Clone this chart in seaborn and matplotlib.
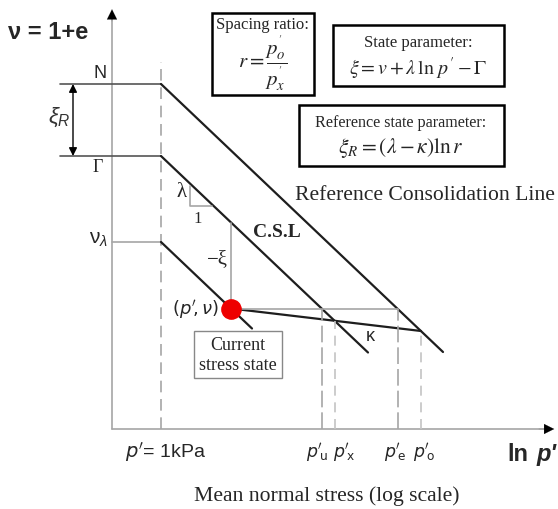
import matplotlib
matplotlib.use("Agg")
import matplotlib.pyplot as plt
import seaborn as sns
import pandas as pd
from matplotlib.patches import Rectangle

sns.set_theme(style="white")
plt.rcParams['font.family'] = ['Liberation Sans', 'DejaVu Sans']
plt.rcParams['mathtext.fontset'] = 'custom'
plt.rcParams['mathtext.rm'] = 'Liberation Sans'
plt.rcParams['mathtext.it'] = 'Liberation Sans:italic'
plt.rcParams['mathtext.bf'] = 'Liberation Sans:bold'

# ---- schematic values (x = ln p', 0 at p' = 1 kPa ; y = specific volume v) ----
v_N = 6.9
v_Gamma = 5.46
v_lambda = 3.74
rcl_x = [0.0, 5.64]
rcl_v = [6.9, 1.54]
csl_x = [0.0, 4.14]
csl_v = [5.46, 1.53]
ncl_x = [0.0, 1.82]
ncl_v = [3.74, 2.01]
kappa_x = [1.40, 5.20]
kappa_v = [2.41, 1.96]
state_x = 1.40
state_v = 2.41
csl_at_state = 4.13
p_u = 3.21
p_x = 3.47
p_e = 4.73
p_o = 5.20
v_x_on_csl = 2.16
v_o_on_rcl = 1.96
tick_labels = [r"$p'_{\!\rm u}$", r"$p'_{\!\rm x}$", r"$p'_{\!\rm e}$", r"$p'_{\!\rm o}$"]
tick_pos = [3.12, 3.66, 4.68, 5.27]

DARK = "#1e1e1e"
GRAY = "#a6a6a6"
LGRAY = "#c4c4c4"

fig = plt.figure(figsize=(5.58, 5.10), dpi=100)
ax = fig.add_axes([0, 0, 1, 1])
ax.set_xlim(-3.22, 7.94)
ax.set_ylim(-1.6, 8.6)
ax.axis('off')

def line(xs, ys, color=DARK, lw=1.6, ls='-'):
    df = pd.DataFrame({"x": xs, "y": ys})
    sns.lineplot(data=df, x="x", y="y", ax=ax, color=color, lw=lw,
                 linestyle=ls, sort=False, estimator=None, legend=False)

# axes
y_axis_x = -0.98
line([y_axis_x, y_axis_x], [0, 8.2], color=GRAY, lw=1.2)
line([y_axis_x, 7.7], [0, 0], color=GRAY, lw=1.2)
ax.annotate('', xy=(y_axis_x, 8.45), xytext=(y_axis_x, 8.1),
            arrowprops=dict(arrowstyle='-|>', color='black', lw=0.1, mutation_scale=18))
ax.annotate('', xy=(7.92, 0), xytext=(7.5, 0),
            arrowprops=dict(arrowstyle='-|>', color='black', lw=0.1, mutation_scale=18))

# p' = 1 kPa dashed line
line([0, 0], [0, 7.34], color=GRAY, lw=1.2, ls=(0, (7, 4)))

# horizontal reference levels
line([-2.02, 0], [v_N, v_N], color="#555555", lw=1.2)
line([-2.02, 0], [v_Gamma, v_Gamma], color="#555555", lw=1.2)
line([y_axis_x, 0], [v_lambda, v_lambda], color=GRAY, lw=1.2)

# main lines
line(rcl_x, rcl_v)
line(csl_x, csl_v)
line(ncl_x, ncl_v)
line(kappa_x, kappa_v)

# helper lines
line([state_x, p_e], [state_v, state_v], color=GRAY, lw=1.2)
line([state_x, state_x], [state_v, csl_at_state], color=GRAY, lw=1.2)
line([p_u, p_u], [0, state_v], color=GRAY, lw=1.2, ls=(0, (10, 3)))
line([p_e, p_e], [0, state_v], color=GRAY, lw=1.2, ls=(0, (10, 3)))
line([p_x, p_x], [0, v_x_on_csl], color=LGRAY, lw=1.2, ls=(0, (6, 4)))
line([p_o, p_o], [0, v_o_on_rcl], color=LGRAY, lw=1.2, ls=(0, (6, 4)))

# lambda triangle
line([0.58, 0.58, 1.02], [4.86, 4.46, 4.46], color=GRAY, lw=1.2)

# current state point
sns.scatterplot(x=[state_x], y=[state_v], ax=ax, color="#ee0000", s=190,
                edgecolor="#ee0000", zorder=5, legend=False)

# xi_R double arrow
ax.annotate('', xy=(-1.76, v_N), xytext=(-1.76, v_Gamma),
            arrowprops=dict(arrowstyle='<|-|>', color='black', lw=1.0, mutation_scale=12,
                            shrinkA=0, shrinkB=0))

SERIF = ['Liberation Serif', 'DejaVu Serif']
# labels
ax.text(-3.06, 7.94, "ν = 1+e", fontsize=17, fontweight='bold', ha='left', va='center')
ax.text(-1.08, 7.12, "N", fontsize=13, ha='right', va='center')
ax.text(-1.16, 5.25, "Γ", fontsize=13, ha='right', va='center', family=SERIF)
ax.text(-1.06, 3.8, r"ν$_\lambda$", fontsize=15, ha='right', va='center')
ax.text(-2.04, 6.26, r"$\xi_R$", fontsize=16, ha='center', va='center', color="#333333")
ax.text(0.42, 4.74, "λ", fontsize=15, ha='center', va='center', family=SERIF)
ax.text(0.74, 4.22, "1", fontsize=12, ha='center', va='center', family=SERIF)
ax.text(1.84, 3.94, "C.S.L", fontsize=14, fontweight='bold', ha='left', va='center', family=SERIF)
ax.text(1.12, 3.4, "−ξ", fontsize=15, ha='center', va='center', family=SERIF)
ax.text(1.16, 2.4, r"$(p'\!,\nu)$", fontsize=13, ha='right', va='center',
        math_fontfamily='dejavusans')
ax.text(1.54, 1.49, "Current\nstress state", fontsize=13, ha='center', va='center',
        family=SERIF, linespacing=1.2,
        bbox=dict(boxstyle='square,pad=0.3', fc='white', ec='#888888', lw=1.0))
ax.text(4.18, 1.86, "κ", fontsize=13, ha='center', va='center')
ax.text(2.68, 4.68, "Reference Consolidation Line", fontsize=15.6, ha='left', va='center',
        family=SERIF)

# bottom labels
ax.text(0.08, -0.44, r"$p'$= 1kPa", fontsize=14, ha='center', va='center',
        math_fontfamily='dejavusans')
for lab, pos in zip(tick_labels, tick_pos):
    ax.text(pos, -0.46, lab, fontsize=12.5, ha='center', va='center',
            math_fontfamily='dejavusans')
ax.text(6.92, -0.5, "ln", fontsize=17, fontweight='bold', ha='left', va='center')
ax.text(7.52, -0.5, "p'", fontsize=17, fontweight='bold', style='italic', ha='left', va='center')
ax.text(3.32, -1.32, "Mean normal stress (log scale)", fontsize=15.6, ha='center', va='center',
        family=SERIF)

# formula boxes
def box(x0, x1, y0, y1):
    ax.add_patch(Rectangle((x0, y0), x1 - x0, y1 - y0, fill=False, ec='black', lw=1.8))

box(1.02, 3.06, 6.68, 8.32)
ax.text(2.04, 8.1, "Spacing ratio:", fontsize=12, ha='center', va='center', family=SERIF)
ax.text(2.04, 7.34, r"$r=\dfrac{p_o^{'}}{p_x^{'}}$", fontsize=15, ha='center', va='center',
        math_fontfamily='stix')

box(3.44, 6.86, 6.86, 8.08)
ax.text(5.14, 7.74, "State parameter:", fontsize=12, ha='center', va='center', family=SERIF)
ax.text(5.14, 7.22, r"$\xi=v+\lambda\,\ln\,p'-\Gamma$", fontsize=14.4, ha='center', va='center',
        math_fontfamily='stix')

box(2.76, 6.86, 5.26, 6.48)
ax.text(4.8, 6.14, "Reference state parameter:", fontsize=11.6, ha='center', va='center',
        family=SERIF)
ax.text(4.8, 5.64, r"$\xi_R=\left(\lambda-\kappa\right)\ln r$", fontsize=15.5, ha='center',
        va='center', math_fontfamily='stix')

fig.savefig("out.png", dpi=100)
